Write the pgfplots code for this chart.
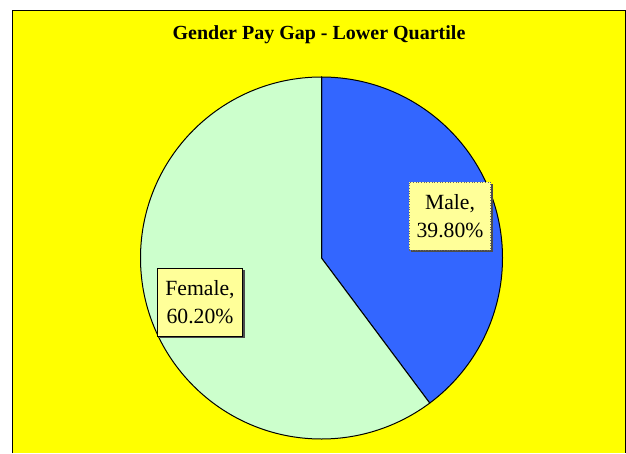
\documentclass[border=0pt]{standalone}
\usepackage{fontspec}
\setmainfont{Liberation Serif}
\usepackage{pgfplots}
\usepackage{pgfplotstable}
\pgfplotsset{compat=1.18}
\definecolor{bgyellow}{RGB}{255,255,0}
\definecolor{maleblue}{RGB}{51,102,255}
\definecolor{femgreen}{RGB}{204,255,204}
\definecolor{lblfill}{RGB}{255,255,153}

\pgfplotstableread{
label share
Male 39.8
Female 60.2
}\shares

\begin{document}
\begin{tikzpicture}
\pgfplotstablegetelem{0}{share}\of\shares \let\male\pgfplotsretval
\pgfplotstablegetelem{1}{share}\of\shares \let\female\pgfplotsretval
\pgfmathsetmacro\split{90-3.6*\male}
\begin{axis}[
  hide axis, scale only axis,
  width=375.6pt, height=271.8pt,
  xmin=0, xmax=626, ymin=0, ymax=453,
  clip=false,
]
% whole picture, white margin
\path[use as bounding box] (axis cs:0,0) rectangle (axis cs:626,453);
% chart area
\fill[bgyellow, draw=black, line width=0.6pt] (axis cs:12.5,0) -- (axis cs:12.5,442.5) -- (axis cs:625,442.5) -- (axis cs:625,0);
\node[font=\bfseries\fontsize{12}{14}\selectfont] at (axis cs:319,418) {Gender Pay Gap - Lower Quartile};
% slices
\fill[maleblue, draw=black, line width=0.6pt] (axis cs:321.5,195) -- (axis cs:321.5,376)
  arc[start angle=90, end angle=\split, radius=181] -- cycle;
\fill[femgreen, draw=black, line width=0.6pt] (axis cs:321.5,195) -- (axis cs:321.5,376)
  arc[start angle=90, end angle={\split+360}, radius=181] -- cycle;
% labels
\node[fill=black!70, minimum width=49pt, minimum height=40.8pt] at (axis cs:452,235) {};
\node[fill=lblfill, draw=black!60, densely dotted, line width=0.6pt, minimum width=49pt, minimum height=40.8pt,
  align=center, inner sep=0pt, font=\fontsize{13}{17}\selectfont] at (axis cs:450,237) {Male,\\\male0\%};
\node[fill=black!70, minimum width=51pt, minimum height=40.8pt] at (axis cs:202,149) {};
\node[fill=lblfill, draw=black, line width=0.6pt, minimum width=51pt, minimum height=40.8pt,
  align=center, inner sep=0pt, font=\fontsize{13}{17}\selectfont] at (axis cs:200,151) {Female,\\\female0\%};
\end{axis}
\end{tikzpicture}
\end{document}
